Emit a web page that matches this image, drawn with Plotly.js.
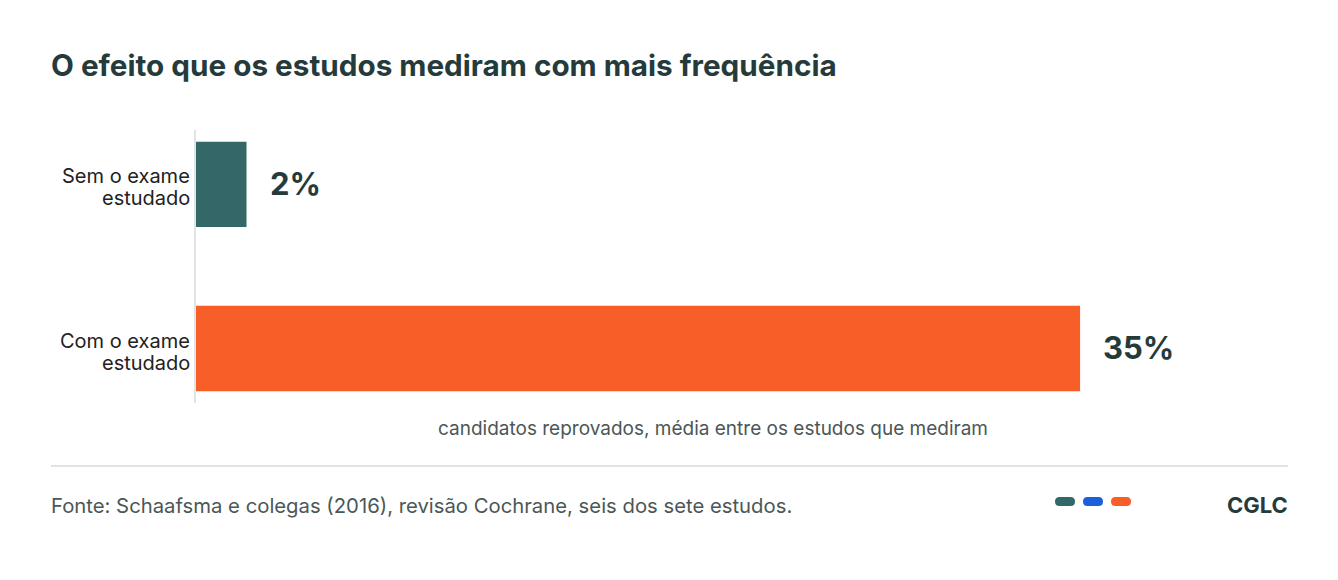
<!DOCTYPE html>
<html>
<head>
<meta charset="utf-8">
<script src="https://cdn.plot.ly/plotly-3.0.1.min.js"></script>
<style>
  body { margin: 0; background: #fff; }
  #chart { width: 1338px; height: 580px; }
</style>
</head>
<body>
<div id="chart"></div>
<script>
var categories = ['Sem o exame<br>estudado', 'Com o exame<br>estudado'];
var values = [2, 35];
var valueLabels = ['2%', '35%'];
var barColors = ['#346767', '#f75e28'];
var pillColors = ['#346767', '#1a5fdb', '#f75e28'];

var W = 1338, H = 580;
var L = 196, R = 1288, T = 130, B = 403;
var sans = 'Inter, sans-serif';

// pixel -> paper helpers
function px(x) { return (x - L) / (R - L); }
function py(y) { return (B - y) / (B - T); }

function pill(x0, x1, y0, y1, color) {
  var r = (y1 - y0) / 2;
  var a = px(x0), b = px(x0 + r), c = px(x1 - r), d = px(x1);
  var top = py(y0), bot = py(y1), mid = py(y0 + r);
  return {
    type: 'path', xref: 'paper', yref: 'paper',
    path: 'M ' + b + ',' + top + ' L ' + c + ',' + top +
          ' Q ' + d + ',' + top + ' ' + d + ',' + mid +
          ' Q ' + d + ',' + bot + ' ' + c + ',' + bot +
          ' L ' + b + ',' + bot +
          ' Q ' + a + ',' + bot + ' ' + a + ',' + mid +
          ' Q ' + a + ',' + top + ' ' + b + ',' + top + ' Z',
    fillcolor: color, line: {width: 0}
  };
}

var data = [{
  type: 'bar',
  orientation: 'h',
  x: values,
  y: categories,
  width: 0.52,
  marker: {color: barColors},
  hoverinfo: 'none'
}];

var annotations = [];
values.forEach(function (v, i) {
  annotations.push({
    x: v, y: categories[i], xref: 'x', yref: 'y',
    text: valueLabels[i], showarrow: false,
    xanchor: 'left', xshift: 21, yshift: 1,
    font: {family: sans, size: 31, color: '#253b3b', weight: 700}
  });
  // category label, two tighter lines
  var lines = categories[i].split('<br>');
  lines.forEach(function (t, k) {
    annotations.push({
      x: 0, y: categories[i], xref: 'paper', yref: 'y',
      text: t, showarrow: false,
      xanchor: 'right', yanchor: 'middle', xshift: -4,
      yshift: (lines.length - 1) * 11 - k * 22 - 3,
      font: {family: sans, size: 20, color: '#222'}
    });
  });
});

annotations.push({
  xref: 'paper', yref: 'paper', x: px(713), y: py(428),
  text: 'candidatos reprovados, média entre os estudos que mediram',
  showarrow: false, xanchor: 'center', yanchor: 'middle',
  font: {family: sans, size: 19, color: '#4b5757'}
});
annotations.push({
  xref: 'paper', yref: 'paper', x: px(51), y: py(505),
  text: 'Fonte: Schaafsma e colegas (2016), revisão Cochrane, seis dos sete estudos.',
  showarrow: false, xanchor: 'left', yanchor: 'middle', xshift: -2,
  font: {family: sans, size: 20.3, color: '#4b5757'}
});
annotations.push({
  xref: 'paper', yref: 'paper', x: px(1288), y: py(505),
  text: 'CGLC',
  showarrow: false, xanchor: 'right', yanchor: 'middle', xshift: 2,
  font: {family: sans, size: 22, color: '#253b3b', weight: 700}
});

var shapes = [
  {type: 'line', xref: 'paper', yref: 'paper', x0: px(51), x1: px(1288), y0: py(466), y1: py(466),
   line: {color: '#dfe3e3', width: 2}}
];
shapes.push(pill(1055, 1075, 497, 506, pillColors[0]));
shapes.push(pill(1083, 1103, 497, 506, pillColors[1]));
shapes.push(pill(1111, 1131, 497, 506, pillColors[2]));

var layout = {
  width: W, height: H,
  margin: {l: L, r: W - R, t: T, b: H - B, pad: 0},
  paper_bgcolor: '#fff',
  plot_bgcolor: '#fff',
  showlegend: false,
  title: {
    text: 'O efeito que os estudos mediram com mais frequência',
    xref: 'container', yref: 'container',
    x: 51 / W, xanchor: 'left',
    y: 1 - 66 / H, yanchor: 'middle',
    font: {family: sans, size: 29.7, color: '#253b3b', weight: 700}
  },
  xaxis: {
    range: [0, (R - L) / 25.26],
    showgrid: false, zeroline: false, showline: false,
    showticklabels: false, ticks: ''
  },
  yaxis: {
    range: [1.332, -0.332],
    showgrid: false, zeroline: false,
    showline: true, linecolor: '#e0e4e4', linewidth: 2,
    ticks: '', showticklabels: false
  },
  annotations: annotations,
  shapes: shapes
};

Plotly.newPlot('chart', data, layout, {displayModeBar: false, staticPlot: true});
</script>
</body>
</html>
